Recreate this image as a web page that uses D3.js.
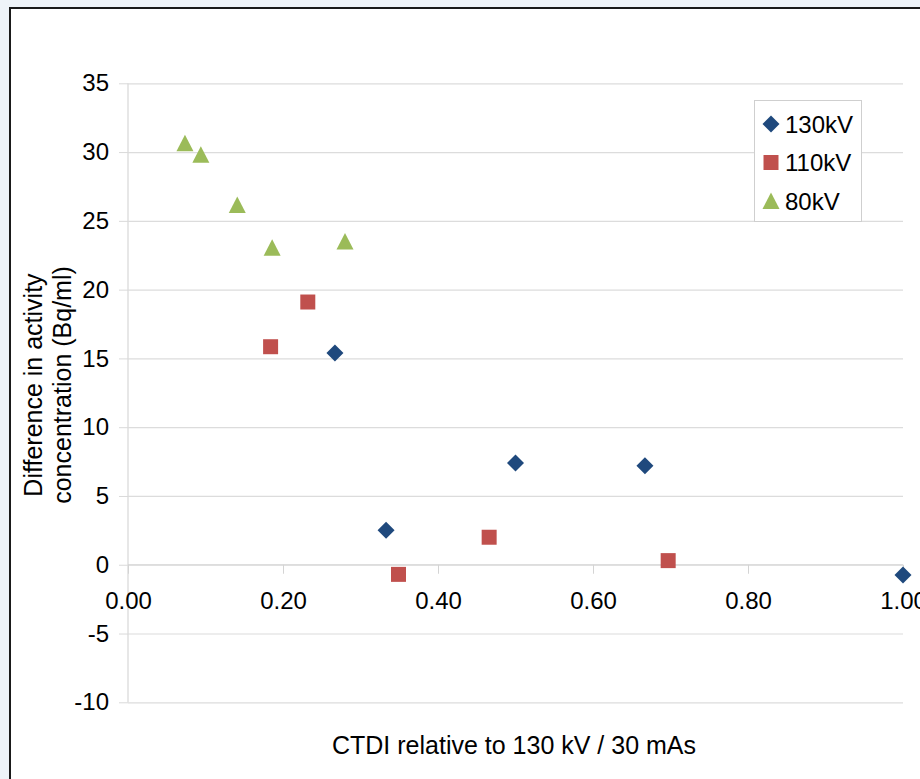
<!DOCTYPE html>
<html>
<head>
<meta charset="utf-8">
<script src="https://cdn.jsdelivr.net/npm/d3@7"></script>
<style>
  html, body { margin: 0; padding: 0; background: #eef3f8; }
  svg { display: block; }
  text { font-family: "Liberation Sans", Arial, sans-serif; fill: #000; }
</style>
</head>
<body>
<svg id="chart" width="920" height="779"></svg>
<script>
// CTDI relative to 130 kV / 30 mAs (x) vs. difference in activity concentration (y)
const series130x = [0.267, 0.333, 0.500, 0.667, 1.000];
const series130y = [15.4, 2.5, 7.4, 7.2, -0.75];
const series110x = [0.184, 0.232, 0.349, 0.466, 0.697];
const series110y = [15.85, 19.1, -0.7, 2.0, 0.3];
const series80x = [0.0735, 0.094, 0.141, 0.186, 0.280];
const series80y = [30.65, 29.8, 26.15, 23.05, 23.5];
const seriesNames = ["130kV", "110kV", "80kV"];
const xTicks = [0, 0.2, 0.4, 0.6, 0.8, 1.0];
const yTicks = [-10, -5, 0, 5, 10, 15, 20, 25, 30, 35];
const xTitle = "CTDI relative to 130 kV / 30 mAs";
const yTitleLines = ["Difference in activity", "concentration (Bq/ml)"];

const colors = { "130kV": "#1f497d", "110kV": "#c0504d", "80kV": "#9bbb59" };
const shapes = { "130kV": "diamond", "110kV": "square", "80kV": "triangle" };

const svg = d3.select("#chart");

// page background and chart frame
svg.append("rect").attr("x", 0).attr("y", 0).attr("width", 920).attr("height", 779).attr("fill", "#eef3f8");
svg.append("rect").attr("x", 10).attr("y", 8).attr("width", 1000).attr("height", 1000)
  .attr("fill", "#fff").attr("stroke", "#1a1a1a").attr("stroke-width", 2);

const x = d3.scaleLinear().domain([0, 1]).range([128, 903]);
const y = d3.scaleLinear().domain([-10, 35]).range([702.3, 83.3]);

// plain hyphen for negative numbers
const intFmt = d => String(d);

// horizontal gridlines with left tick stubs
const yAxis = d3.axisLeft(y).tickValues(yTicks).tickSize(9).tickFormat(intFmt)
  .tickPadding(10);
const gy = svg.append("g").attr("transform", `translate(${x(0)},0)`).call(yAxis);
gy.select(".domain").attr("stroke", "#cfcfcf").attr("d", `M0,${y(35)}V${y(-10)}`);
gy.selectAll(".tick line").attr("stroke", "#d9d9d9");
gy.selectAll(".tick text").attr("font-size", 24).attr("font-family", "Liberation Sans, Arial, sans-serif");
gy.selectAll(".tick").append("line")
  .attr("x1", 0).attr("x2", x(1) - x(0)).attr("stroke", "#dcdcdc").attr("stroke-width", 1.2);

// x axis crossing at y = 0
const xAxis = d3.axisBottom(x).tickValues(xTicks).tickSize(9).tickFormat(d3.format(".2f"))
  .tickPadding(18);
const gx = svg.append("g").attr("transform", `translate(0,${y(0)})`).call(xAxis);
gx.select(".domain").attr("stroke", "#d4d4d4").attr("stroke-width", 1.2).attr("d", `M${x(0)},0H${x(1)}`);
gx.selectAll(".tick line").attr("stroke", "#d4d4d4");
gx.selectAll(".tick text").attr("font-size", 24).attr("font-family", "Liberation Sans, Arial, sans-serif");

// marker shapes
function markerPath(shape) {
  if (shape === "diamond") return "M0,-8.5L8.5,0L0,8.5L-8.5,0Z";
  if (shape === "square") return "M-7.5,-7.5H7.5V7.5H-7.5Z";
  return "M0,-8.5L8.5,8L-8.5,8Z";
}

const data = [
  { name: "130kV", xs: series130x, ys: series130y },
  { name: "110kV", xs: series110x, ys: series110y },
  { name: "80kV", xs: series80x, ys: series80y }
];

data.forEach(s => {
  svg.append("g").selectAll("path")
    .data(s.xs.map((v, i) => [v, s.ys[i]]))
    .join("path")
    .attr("d", markerPath(shapes[s.name]))
    .attr("transform", d => `translate(${x(d[0])},${y(d[1])})`)
    .attr("fill", colors[s.name]);
});

// legend
const legend = svg.append("g");
legend.append("rect").attr("x", 754.5).attr("y", 100.5).attr("width", 107).attr("height", 121)
  .attr("fill", "#fff").attr("stroke", "#cfcfcf");
seriesNames.forEach((n, i) => {
  const cy = 124 + i * 38.5;
  legend.append("path").attr("d", markerPath(shapes[n]))
    .attr("transform", `translate(771,${cy})`).attr("fill", colors[n]);
  legend.append("text").attr("x", 785).attr("y", cy).attr("dy", "0.36em")
    .attr("font-size", 24).text(n);
});

// axis titles
svg.append("text").attr("x", 514).attr("y", 745).attr("dy", "0.36em")
  .attr("text-anchor", "middle").attr("font-size", 25).text(xTitle);

const yt = svg.append("text").attr("transform", `translate(42,385) rotate(-90)`)
  .attr("text-anchor", "middle").attr("font-size", 25);
yTitleLines.forEach((t, i) => {
  yt.append("tspan").attr("x", 0).attr("y", i * 29).text(t);
});
</script>
</body>
</html>
